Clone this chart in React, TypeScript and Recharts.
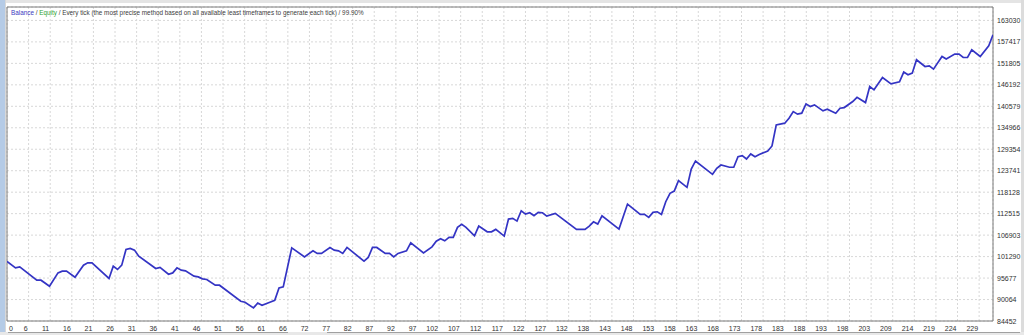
import React from "react";
import { LineChart, Line, XAxis, YAxis, CartesianGrid, ReferenceArea } from "recharts";

const tradeNumbers = [0,2,3,7,8,10,12,13,14,16,18,19,20,24,25,26,27,28,29,30,31,35,36,38,39,40,41,42,44,45,46,47,49,50,55,56,58,59,60,62,63,64,65,67,70,72,73,74,76,77,78,79,80,84,85,86,87,89,90,91,92,94,95,98,100,101,102,103,104,105,106,107,108,110,111,113,114,115,117,118,119,120,121,122,123,124,125,126,127,129,134,136,137,138,139,140,144,146,149,150,151,152,153,154,155,156,157,158,160,161,162,166,167,168,170,171,172,173,174,175,176,177,179,180,181,183,184,185,186,187,188,189,190,192,193,195,196,197,199,200,202,203,204,206,208,210,211,212,213,214,216,217,218,220,221,223,224,225,226,227,229,231,232];

const balanceValues = [100000,98340,98600,95120,95120,93550,97030,97480,97480,95900,99050,99650,99650,95570,98790,97920,99050,103160,103420,102980,101400,98180,98450,96690,97030,98340,97740,97560,96170,95980,95460,95300,93810,93810,89620,89360,87870,89170,88570,89440,89880,93100,93370,103580,101220,102790,102110,102110,103680,102980,102790,102110,103680,100100,101060,103680,103680,102110,102110,101220,102110,102790,104890,102270,103840,105330,105940,105410,106300,106300,108920,109710,108920,106720,109260,107770,107770,108400,106640,111100,111280,110570,113270,112410,112750,111960,112850,112750,111880,112590,108400,108400,109260,110390,109790,111960,108480,115020,112330,112330,111540,112850,113010,112330,115630,117830,118430,121130,119400,124190,126290,122800,124370,125240,124640,124640,127410,127670,126810,128120,127410,128000,128900,130210,135710,136160,137470,139200,138520,138780,141210,140510,140950,139380,139830,138780,140090,140250,141820,142920,141550,145750,144880,148100,146450,146980,149520,148810,149250,152740,150980,151170,150300,153600,152920,154230,154230,153340,153340,155360,153600,156400,159290];

const xTickLabels = [0,6,11,16,21,26,31,36,41,46,51,56,61,66,72,77,82,87,92,97,102,107,112,117,122,127,132,138,143,148,153,158,163,168,173,178,183,188,193,198,203,209,214,219,224,229];

const yTickValues = [84452,90064,95677,101290,106903,112515,118128,123741,129354,134966,140579,146192,151805,157417,163030];

const headerParts = [
  { text: "Balance", color: "#3a3ac0" },
  { text: " / ", color: "#404040" },
  { text: "Equity", color: "#2fa32f" },
  { text: " / Every tick (the most precise method based on all available least timeframes to generate each tick) / 99.90%", color: "#404040" },
];

const X_MAX = 232;
const X_TICK_STEP = 5.083;
const Y_MIN = 84452;
const Y_MAX = 166540;

const data = tradeNumbers.map((t, i) => ({ trade: t, balance: balanceValues[i] }));
const xTickPositions = xTickLabels.map((_, k) => k * X_TICK_STEP);

const FONT = "'Liberation Sans', Arial, sans-serif";

const XTick = (props: any) => {
  const { x, y, index } = props;
  const first = index === 0;
  return (
    <text x={first ? x + 2 : x - 1} y={y + 9.5} textAnchor={first ? "start" : "end"} fontSize={7} fontFamily={FONT} fill="#303030">
      {xTickLabels[index]}
    </text>
  );
};

const YTick = (props: any) => {
  const { x, y, payload } = props;
  return (
    <text x={x + 4} y={y + 2.5} textAnchor="start" fontSize={7} fontFamily={FONT} fill="#303030">
      {payload.value}
    </text>
  );
};

export default function App() {
  return (
    <div style={{ position: "absolute", left: 0, top: 0, width: 1024, height: 335, background: "#ffffff", overflow: "hidden" }}>
      <LineChart width={1024} height={335} data={data} margin={{ top: 7, right: 0, bottom: 0, left: 7 }}>
        <CartesianGrid stroke="#d8d8d8" strokeDasharray="2 2" />
        <XAxis
          dataKey="trade"
          type="number"
          domain={[0, X_MAX]}
          ticks={xTickPositions}
          interval={0}
          height={14}
          tickSize={0}
          tickMargin={0}
          axisLine={false}
          tickLine={false}
          tick={<XTick />}
          allowDataOverflow
        />
        <YAxis
          orientation="right"
          type="number"
          domain={[Y_MIN, Y_MAX]}
          ticks={yTickValues}
          interval={0}
          width={31}
          tickSize={0}
          tickMargin={0}
          axisLine={false}
          tickLine={false}
          tick={<YTick />}
          allowDataOverflow
        />
        <ReferenceArea x1={0} x2={X_MAX} y1={Y_MIN} y2={Y_MAX} fill="none" stroke="#7a7a7a" strokeWidth={1} ifOverflow="visible" />
        <Line
          type="linear"
          dataKey="balance"
          stroke="#3434c4"
          strokeWidth={1.7}
          dot={false}
          isAnimationActive={false}
        />
      </LineChart>
      <svg width={1024} height={335} style={{ position: "absolute", left: 0, top: 0, pointerEvents: "none" }}>
        <rect x={0} y={0} width={1024} height={3} fill="#e4e4e4" />
        <rect x={0} y={0} width={5} height={335} fill="#b5cbe6" />
        <rect x={5} y={0} width={1} height={335} fill="#d8d8d8" />
        <rect x={1021} y={0} width={3} height={335} fill="#dcdcdc" />
        <rect x={0} y={332} width={1024} height={3} fill="#e8e8e8" />
        <line x1={8} y1={332.5} x2={288} y2={332.5} stroke="#a0a0a0" strokeWidth={1} />
        <line x1={327} y1={332.5} x2={1020} y2={332.5} stroke="#a0a0a0" strokeWidth={1} />
        <text x={11} y={15} fontSize={6.35} fontFamily={FONT}>
          {headerParts.map((p, i) => (
            <tspan key={i} fill={p.color}>{p.text}</tspan>
          ))}
        </text>
      </svg>
    </div>
  );
}
